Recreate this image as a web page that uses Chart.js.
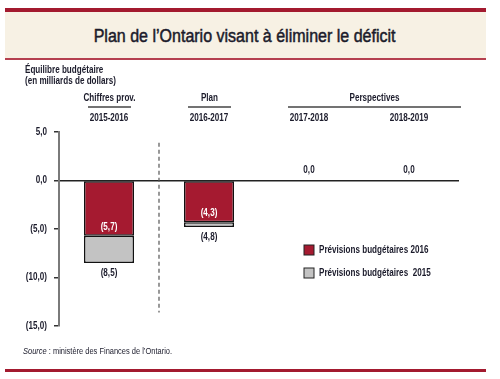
<!DOCTYPE html>
<html lang="fr">
<head>
<meta charset="utf-8">
<script src="https://cdn.jsdelivr.net/npm/chart.js@4.4.1/dist/chart.umd.min.js"></script>
<style>
body { margin: 0; background: #fff; font-family: 'Liberation Sans', Arial, sans-serif; color: #1b1b2b; }
#wrap { position: relative; width: 500px; height: 379px; overflow: hidden; }
#band { position: absolute; left: 5px; top: 8px; width: 481px; height: 46px; background: #f7f1e4; border-top: 4px solid #a31a2f; border-bottom: 2px solid #b5404f; text-align: center; }
#band span { display: inline-block; font-size: 18px; line-height: 48px; transform: scaleX(0.89); white-space: nowrap; -webkit-text-stroke: 0.5px #1b1b2b; margin-left: -1px; }
#source { position: absolute; left: 23px; top: 346px; font-size: 9px; transform: scaleX(0.83); transform-origin: 0 0; white-space: nowrap; }
#foot { position: absolute; left: 5px; top: 369px; width: 481px; height: 3px; background: #a31a2f; }
canvas { position: absolute; left: 0; top: 0; }
</style>
</head>
<body>
<div id="wrap">
  <canvas id="myChart" width="500" height="379"></canvas>
  <div id="band"><span>Plan de l’Ontario visant à éliminer le déficit</span></div>
  <div id="source"><i>Source</i> : ministère des Finances de l’Ontario.</div>
  <div id="foot"></div>
</div>
<script>
// years and the header groups above them
const categories = ['2015-2016', '2016-2017', '2017-2018', '2018-2019'];
const groupLabels = ['Chiffres prov.', 'Plan', 'Perspectives'];
const groupStart = [0, 1, 2];
const groupEnd = [0, 1, 3];

// budget balance, billions of dollars
const budget2016 = [-5.7, -4.3, 0.0, 0.0];
const budget2015 = [-8.5, -4.8, null, null];
const yTicks = [5, 0, -5, -10, -15];

const seriesNames = ['Prévisions budgétaires 2016', 'Prévisions budgétaires  2015'];
const red = '#a51a30';
const grey = '#c3c3c3';
const ink = '#1b1b2b';
const font = "'Liberation Sans', Arial, sans-serif";

function fmt(v) {
    const s = Math.abs(v).toFixed(1).replace('.', ',');
    return v < 0 ? '(' + s + ')' : s;
}

// narrow text: regular face squeezed to look like a condensed one
function txt(c, s, x, y, align, color, size) {
    c.save();
    c.translate(x, y);
    c.scale(0.81, 1);
    c.font = 'bold ' + (size || 10) + 'px ' + font;
    c.fillStyle = color || ink;
    c.textAlign = align || 'center';
    c.textBaseline = 'middle';
    c.fillText(s, 0, 0);
    c.restore();
}

const extras = {
    id: 'extras',
    afterDraw(chart) {
        const c = chart.ctx;
        const x = chart.scales.x;
        const y = chart.scales.y;
        c.save();
        txt(c, 'Équilibre budgétaire', 25, 70, 'left');
        txt(c, '(en milliards de dollars)', 25, 81, 'left');

        // y tick labels
        y.ticks.forEach(t => {
            txt(c, fmt(t.value), y.right - 12, y.getPixelForValue(t.value), 'right');
        });

        // group headers with underline
        groupLabels.forEach((g, i) => {
            const x0 = x.getPixelForValue(groupStart[i]);
            const x1 = x.getPixelForValue(groupEnd[i]);
            let l, r;
            if (groupStart[i] === groupEnd[i]) { l = x0 - 21; r = x0 + 22; }
            else { l = x0 - 21; r = x1 + 52; }
            txt(c, g, (l + r) / 2, 98);
            c.strokeStyle = '#444';
            c.lineWidth = 1.5;
            c.beginPath();
            c.moveTo(l, 107);
            c.lineTo(r, 107);
            c.stroke();
        });
        categories.forEach((cat, i) => {
            txt(c, cat, x.getPixelForValue(i), 118);
        });

        // dashed separator between actuals and plan
        const sx = (x.getPixelForValue(0) + x.getPixelForValue(1)) / 2;
        c.strokeStyle = '#555';
        c.lineWidth = 1.2;
        c.setLineDash([4, 3]);
        c.beginPath();
        c.moveTo(sx, y.getPixelForValue(3.9));
        c.lineTo(sx, y.getPixelForValue(-13.6));
        c.stroke();
        c.setLineDash([]);

        // value labels
        budget2016.forEach((v, i) => {
            const px = x.getPixelForValue(i);
            if (v === 0) txt(c, fmt(v), px, y.getPixelForValue(0) - 10);
            else txt(c, fmt(v), px, y.getPixelForValue(v) - 9, 'center', '#fff');
        });
        budget2015.forEach((v, i) => {
            if (v == null) return;
            txt(c, fmt(v), x.getPixelForValue(i), y.getPixelForValue(v) + 10);
        });

        // legend
        const colors = [red, grey];
        seriesNames.forEach((name, i) => {
            const ly = 250 + i * 23;
            c.fillStyle = colors[i];
            c.fillRect(304, ly - 5, 10, 10);
            c.strokeStyle = '#222';
            c.lineWidth = 1;
            c.strokeRect(304, ly - 5, 10, 10);
            txt(c, name, 319, ly, 'left');
        });
        c.restore();
    }
};

const ctx = document.getElementById('myChart').getContext('2d');
const myChart = new Chart(ctx, {
    type: 'bar',
    data: {
        labels: categories,
        datasets: [{
            label: seriesNames[0],
            data: budget2016.map(v => v === 0 ? null : v),
            backgroundColor: red,
            borderColor: '#111',
            borderWidth: 1.5,
            borderSkipped: false,
            grouped: false,
            categoryPercentage: 0.5,
            barPercentage: 1
        }, {
            label: seriesNames[1],
            data: budget2015.map((v, i) => v == null ? null : [budget2016[i], v]),
            backgroundColor: grey,
            borderColor: '#111',
            borderWidth: 1.5,
            borderSkipped: false,
            grouped: false,
            categoryPercentage: 0.5,
            barPercentage: 1
        }]
    },
    options: {
        responsive: false,
        animation: false,
        layout: { padding: { left: 0, top: 132, right: 41, bottom: 53 } },
        plugins: { legend: { display: false }, tooltip: { enabled: false } },
        scales: {
            x: { display: false },
            y: {
                min: -15,
                max: 5,
                afterFit: (scale) => { scale.width = 59; },
                afterBuildTicks: (scale) => { scale.ticks = yTicks.map(v => ({ value: v })); },
                ticks: { display: false },
                border: { display: true, color: '#7a7a7a', width: 2 },
                grid: {
                    drawOnChartArea: true,
                    color: (c) => c.tick && c.tick.value === 0 ? '#222' : 'rgba(0,0,0,0)',
                    lineWidth: 1.5,
                    tickColor: '#333',
                    tickLength: 5
                }
            }
        }
    },
    plugins: [extras]
});
</script>
</body>
</html>
